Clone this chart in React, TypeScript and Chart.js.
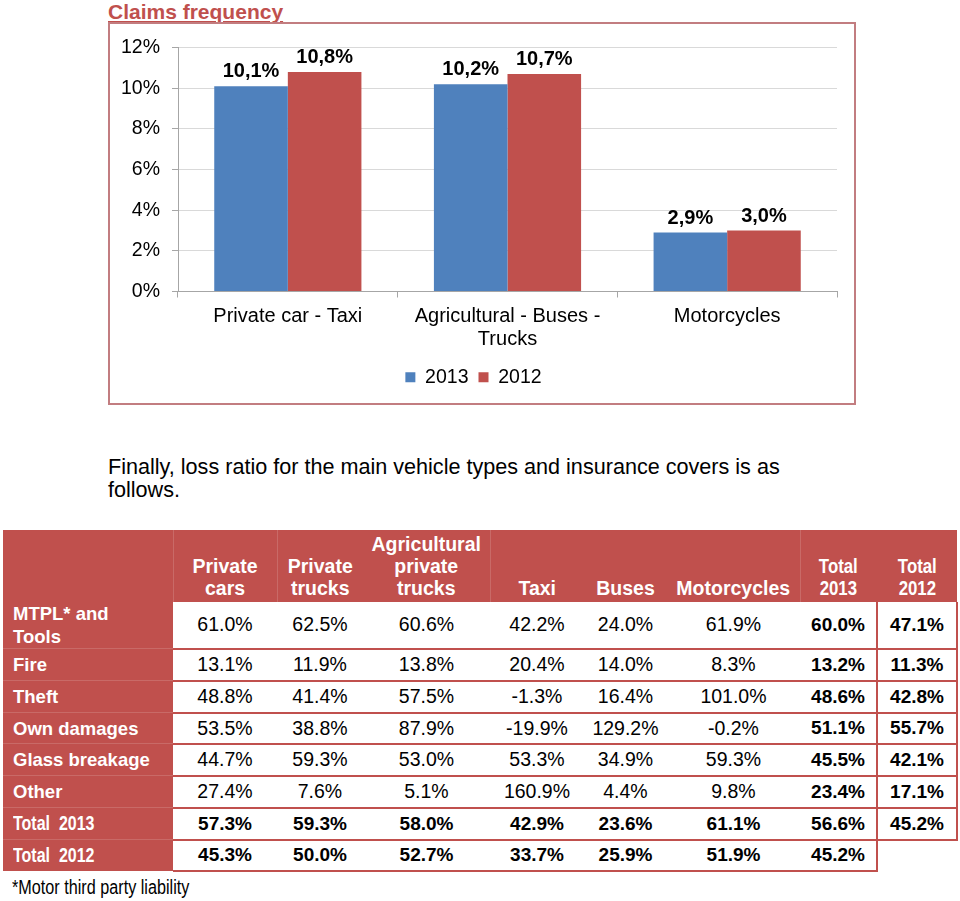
import React, { useEffect, useRef } from "react";
import { Chart, registerables } from "chart.js";

Chart.register(...registerables);

// ---- Chart data ----
const categories: string[][] = [["Private car - Taxi"], ["Agricultural - Buses -", "Trucks"], ["Motorcycles"]];
const seriesNames = ["2013", "2012"];
const freq2013 = [10.1, 10.2, 2.9];
const freq2012 = [10.8, 10.7, 3.0];
const yMin = 0;
const yMax = 12;
const yStep = 2;

// ---- Table data ----
const tableColumns: string[][] = [
  ["Private", "cars"],
  ["Private", "trucks"],
  ["Agricultural", "private", "trucks"],
  ["Taxi"],
  ["Buses"],
  ["Motorcycles"],
  ["Total", "2013"],
  ["Total", "2012"],
];
const tableRows: string[][] = [
  ["MTPL* and", "Tools"],
  ["Fire"],
  ["Theft"],
  ["Own damages"],
  ["Glass breakage"],
  ["Other"],
  ["Total  2013"],
  ["Total  2012"],
];
const mtpl = [61.0, 62.5, 60.6, 42.2, 24.0, 61.9, 60.0, 47.1];
const fire = [13.1, 11.9, 13.8, 20.4, 14.0, 8.3, 13.2, 11.3];
const theft = [48.8, 41.4, 57.5, -1.3, 16.4, 101.0, 48.6, 42.8];
const ownDamages = [53.5, 38.8, 87.9, -19.9, 129.2, -0.2, 51.1, 55.7];
const glassBreakage = [44.7, 59.3, 53.0, 53.3, 34.9, 59.3, 45.5, 42.1];
const other = [27.4, 7.6, 5.1, 160.9, 4.4, 9.8, 23.4, 17.1];
const total2013 = [57.3, 59.3, 58.0, 42.9, 23.6, 61.1, 56.6, 45.2];
const total2012: (number | null)[] = [45.3, 50.0, 52.7, 33.7, 25.9, 51.9, 45.2, null];
const tableValues = [mtpl, fire, theft, ownDamages, glassBreakage, other, total2013, total2012];

const RED = "#C0504D";
const BLUE = "#4F81BD";
const FONT = "'Liberation Sans', Arial, sans-serif";

const valueLabels = {
  id: "valueLabels",
  afterDatasetsDraw(chart: any) {
    const { ctx } = chart;
    ctx.save();
    ctx.font = `bold 20px ${FONT}`;
    ctx.fillStyle = "#000";
    ctx.textAlign = "center";
    ctx.textBaseline = "alphabetic";
    chart.data.datasets.forEach((ds: any, di: number) => {
      const meta = chart.getDatasetMeta(di);
      meta.data.forEach((bar: any, i: number) => {
        const v = ds.data[i] as number;
        ctx.fillText(v.toFixed(1).replace(".", ",") + "%", bar.x, bar.y - 9);
      });
    });
    ctx.restore();
  },
};

function ClaimsChart() {
  const ref = useRef<HTMLCanvasElement | null>(null);
  useEffect(() => {
    if (!ref.current) return;
    const chart = new Chart(ref.current, {
      type: "bar",
      data: {
        labels: categories,
        datasets: [
          { label: seriesNames[0], data: freq2013, backgroundColor: BLUE, categoryPercentage: 0.67, barPercentage: 1.0 },
          { label: seriesNames[1], data: freq2012, backgroundColor: RED, categoryPercentage: 0.67, barPercentage: 1.0 },
        ],
      },
      options: {
        animation: false,
        responsive: false,
        devicePixelRatio: 1,
        layout: { padding: { top: 19, right: 17, bottom: 6, left: 0 } },
        plugins: {
          legend: {
            position: "bottom",
            labels: { font: { size: 19.5, family: FONT }, color: "#000", boxWidth: 10, boxHeight: 10, padding: 10 },
          },
          tooltip: { enabled: false },
        },
        scales: {
          x: {
            grid: { display: true, drawOnChartArea: false, drawTicks: true, tickLength: 6, color: "#A6A6A6", offset: true },
            border: { color: "#A6A6A6" },
            ticks: { font: { size: 20, family: FONT, lineHeight: 1.15 }, color: "#000", padding: 7, maxRotation: 0, autoSkip: false },
            afterFit: (s: any) => { s.height = 66; },
          },
          y: {
            min: yMin,
            max: yMax,
            ticks: { stepSize: yStep, font: { size: 19.5, family: FONT }, color: "#000", padding: 12, callback: (v: any) => v + "%" },
            grid: { color: "#D9D9D9", tickColor: "#A6A6A6", tickLength: 6 },
            border: { color: "#A6A6A6" },
            afterFit: (s: any) => { s.width = 68; },
          },
        },
      },
      plugins: [valueLabels],
    });
    return () => chart.destroy();
  }, []);
  return <canvas ref={ref} width={744} height={379} style={{ display: "block", width: 744, height: 379 }} />;
}

const colWidths = [170, 104, 86, 127, 94, 83, 133, 77, 80];
const rowHeights = [46, 32, 32, 31, 32, 32, 32, 31];
const headerSeparators = [0, 2, 5];

function Narrow({ children, scale, origin }: { children: any; scale: number; origin: string }) {
  return (
    <span style={{ display: "inline-block", transform: `scaleX(${scale})`, transformOrigin: origin, whiteSpace: "pre" }}>
      {children}
    </span>
  );
}

function LossTable() {
  const border = `2px solid ${RED}`;
  return (
    <table
      style={{
        position: "absolute",
        left: 3,
        top: 530,
        width: 954,
        borderCollapse: "collapse",
        tableLayout: "fixed",
        fontFamily: FONT,
      }}
    >
      <colgroup>
        {colWidths.map((w, i) => (
          <col key={i} style={{ width: w }} />
        ))}
      </colgroup>
      <tbody>
        <tr style={{ height: 72 }}>
          <td style={{ background: RED, padding: 0, borderRight: "1px solid #C96A67" }} />
          {tableColumns.map((lines, ci) => {
            const narrow = ci >= 6;
            return (
              <td
                key={ci}
                style={{
                  background: RED,
                  color: "#fff",
                  fontWeight: "bold",
                  fontSize: narrow ? 21 : 19.5,
                  lineHeight: "22px",
                  textAlign: "center",
                  verticalAlign: "bottom",
                  padding: "0 0 3px 0",
                  borderRight: headerSeparators.includes(ci) ? "1px solid #C96A67" : "none",
                }}
              >
                {lines.map((l, k) => (
                  <div key={k}>{narrow ? <Narrow scale={0.8} origin="center">{l}</Narrow> : l}</div>
                ))}
              </td>
            );
          })}
        </tr>
        {tableRows.map((label, ri) => {
          const isTotal = ri >= 6;
          const vals = tableValues[ri];
          return (
            <tr key={ri} style={{ height: rowHeights[ri] }}>
              <td
                style={{
                  background: RED,
                  color: "#fff",
                  fontWeight: "bold",
                  fontSize: isTotal ? 20 : 18.5,
                  lineHeight: "23px",
                  padding: "0 0 0 10px",
                  verticalAlign: "middle",
                  whiteSpace: "pre",
                  borderBottom: ri < 7 ? "1px solid #C96A67" : "none",
                }}
              >
                {label.map((l, k) => (
                  <div key={k}>{isTotal ? <Narrow scale={0.8} origin="left">{l}</Narrow> : l}</div>
                ))}
              </td>
              {vals.map((v, ci) => {
                const empty = v === null;
                const bold = isTotal || ci >= 6;
                return (
                  <td
                    key={ci}
                    style={{
                      background: "#fff",
                      color: "#000",
                      fontSize: bold ? 19 : 19.5,
                      fontWeight: bold ? "bold" : "normal",
                      textAlign: "center",
                      verticalAlign: "middle",
                      padding: 0,
                      borderBottom: empty ? "none" : border,
                      borderRight: ci === 6 || (ci === 7 && !empty) ? border : "none",
                    }}
                  >
                    {empty ? "" : (v as number).toFixed(1) + "%"}
                  </td>
                );
              })}
            </tr>
          );
        })}
      </tbody>
    </table>
  );
}

export default function App() {
  return (
    <div style={{ position: "absolute", left: 0, top: 0, width: 960, height: 901, overflow: "hidden", background: "#fff", fontFamily: FONT }}>
      <div
        style={{
          position: "absolute",
          left: 108,
          top: 0,
          color: RED,
          fontWeight: "bold",
          fontSize: 21,
          lineHeight: "24px",
          textDecoration: "underline",
        }}
      >
        Claims frequency
      </div>
      <div
        style={{
          position: "absolute",
          left: 108,
          top: 22,
          width: 744,
          height: 379,
          border: "2px solid #C27D80",
        }}
      >
        <ClaimsChart />
      </div>
      <div
        style={{
          position: "absolute",
          left: 108,
          top: 455,
          fontSize: 21.6,
          lineHeight: "23px",
          color: "#000",
          whiteSpace: "nowrap",
        }}
      >
        <div>Finally, loss ratio for the main vehicle types and insurance covers is as</div>
        <div>follows.</div>
      </div>
      <LossTable />
      <div
        style={{
          position: "absolute",
          left: 12,
          top: 876,
          fontSize: 20,
          lineHeight: "22px",
          color: "#000",
        }}
      >
        <Narrow scale={0.81} origin="left">*Motor third party liability</Narrow>
      </div>
    </div>
  );
}
